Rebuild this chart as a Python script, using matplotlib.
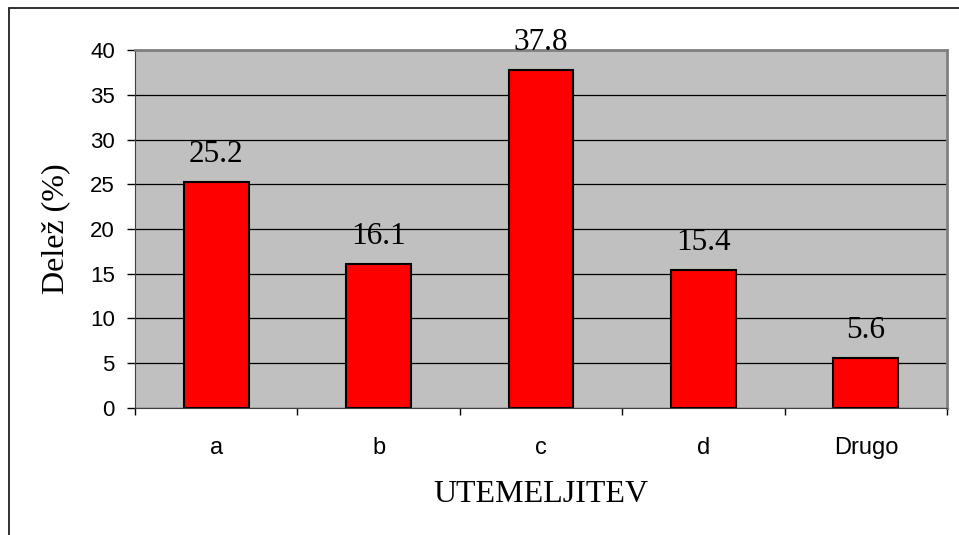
import matplotlib.pyplot as plt
from matplotlib.patches import Rectangle
import numpy as np

categories = ['a', 'b', 'c', 'd', 'Drugo']
shares = [25.2, 16.1, 37.8, 15.4, 5.6]
value_labels = ['25.2', '16.1', '37.8', '15.4', '5.6']

fig = plt.figure(figsize=(9.59, 5.35), dpi=100)
ax = fig.add_axes([0.1408, 0.2374, 0.8467, 0.6691])

# frame around the whole chart (right/bottom edges fall outside the canvas)
fig.patches.append(Rectangle((9 / 959, -0.1), 1.2, 1 - 8 / 535 + 0.1,
                             transform=fig.transFigure, fill=False,
                             edgecolor='#202020', linewidth=1.3))

x = np.arange(len(categories))
ax.set_facecolor('#c0c0c0')
ax.bar(x, shares, width=0.4, color='#ff0000', edgecolor='black',
       linewidth=1.5, zorder=3)

ax.set_xlim(-0.5, len(categories) - 0.5)
ax.set_ylim(0, 40)
ax.set_yticks(np.arange(0, 41, 5))
ax.yaxis.grid(True, color='black', linewidth=0.9, zorder=1)
ax.set_axisbelow(True)

# category labels centred, tick marks at the boundaries
ax.set_xticks(x)
ax.set_xticklabels(categories, fontsize=17, family='Liberation Sans')
ax.set_xticks(np.arange(-0.5, len(categories)), minor=True)
ax.tick_params(axis='x', which='major', length=0, pad=21)
ax.tick_params(axis='x', which='minor', length=5, width=1, direction='out')
ax.tick_params(axis='y', length=6, width=1, direction='out', pad=8.5)
for lbl in ax.get_yticklabels():
    lbl.set_fontsize(16)
    lbl.set_family('Liberation Sans')

for xi, v, t in zip(x, shares, value_labels):
    ax.annotate(t, (xi, v), xytext=(0, 14.5), textcoords='offset points',
                ha='center', va='baseline', fontsize=22.5,
                family='Liberation Serif')

for side in ['top', 'right']:
    ax.spines[side].set_color('#808080')
    ax.spines[side].set_linewidth(2)
ax.spines['left'].set_color('#404040')
ax.spines['bottom'].set_color('#404040')

ax.set_xlabel('UTEMELJITEV', fontsize=23, family='Liberation Serif')
ax.set_ylabel('Delež (%)', fontsize=23, family='Liberation Serif')
ax.xaxis.set_label_coords(0.5, -0.2)
ax.yaxis.set_label_coords(-0.08, 0.5)

fig.savefig('out.png', dpi=100)
